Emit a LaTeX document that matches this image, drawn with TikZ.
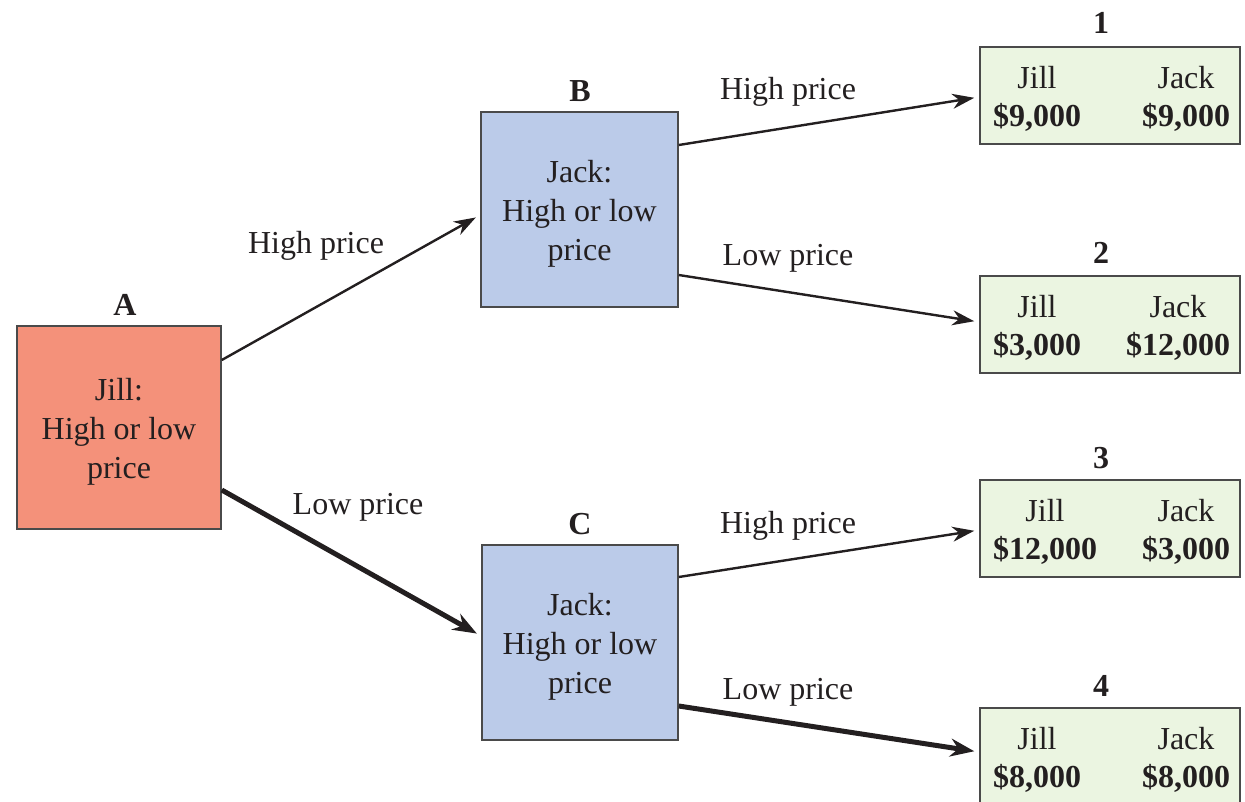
\documentclass[tikz,border=0pt]{standalone}
\usepackage{fontspec}
\setmainfont{Liberation Serif}
\usetikzlibrary{arrows.meta}
\definecolor{txt}{HTML}{231F20}
\definecolor{edge}{HTML}{4A4A4A}
\definecolor{salmon}{HTML}{F4917A}
\definecolor{lblue}{HTML}{BBCBE9}
\definecolor{lgreen}{HTML}{EBF5E1}
\begin{document}
\begin{tikzpicture}[x=1pt,y=-1pt,
  every node/.style={text=txt,font=\fontsize{32}{39}\selectfont},
  decision/.style={draw=edge,line width=1.6pt,minimum height=#1,inner sep=0pt},
  payoff/.style={draw=edge,fill=lgreen,line width=1.6pt,minimum height=97pt,minimum width=260pt,inner sep=0pt},
  paytext/.style={text width=237pt,inner sep=0pt},
  boxtext/.style={align=center,inner sep=0pt},
  tag/.style={font=\fontsize{32}{39}\selectfont\bfseries},
  lbl/.style={inner sep=0pt},
  arr/.style={draw=txt,line width=2.4pt,-{Stealth[length=22pt,width=15pt,inset=7pt]},shorten >=5pt},
  thickarr/.style={arr,line width=5pt,-{Stealth[length=24pt,width=18pt,inset=8pt]}}]
\useasboundingbox (0,0) rectangle (1245,801);
% decision nodes
\node[decision=203pt,fill=salmon,minimum width=204pt] (A) at (119,427.5) {};
\node[decision=195pt,fill=lblue,minimum width=197pt] (B) at (579.5,209.5) {};
\node[decision=195pt,fill=lblue,minimum width=196pt] (C) at (580,642.5) {};
\node[boxtext] (At) at ([yshift=-4pt]A.center) {Jill:\\High or low\\price};
\node[boxtext] (Bt) at ([yshift=-4pt]B.center) {Jack:\\High or low\\price};
\node[boxtext] (Ct) at ([yshift=-4pt]C.center) {Jack:\\High or low\\price};
\node[tag] (tA) at (125,305) {A};
\node[tag] (tB) at (580,91) {B};
\node[tag] (tC) at (580,524) {C};
% payoff boxes
\newcommand{\payrow}[2]{\noindent\begin{tabular}{@{}c@{}}Jill\\[-1pt]\textbf{\$#1}\end{tabular}\hfill\begin{tabular}{@{}c@{}}Jack\\[-1pt]\textbf{\$#2}\end{tabular}}
\node[payoff] (P1) at (1110,95.5) {};
\node[payoff] (P2) at (1110,324.5) {};
\node[payoff] (P3) at (1110,528.5) {};
\node[payoff] (P4) at (1110,756.5) {};
\node[paytext] (P1t) at ([xshift=1.5pt,yshift=-4pt]P1.center) {\payrow{9,000}{9,000}};
\node[paytext] (P2t) at ([xshift=1.5pt,yshift=-4pt]P2.center) {\payrow{3,000}{12,000}};
\node[paytext] (P3t) at ([xshift=1.5pt,yshift=-4pt]P3.center) {\payrow{12,000}{3,000}};
\node[paytext] (P4t) at ([xshift=1.5pt,yshift=-4pt]P4.center) {\payrow{8,000}{8,000}};
\node[tag] (t1) at (1101,23) {1};
\node[tag] (t2) at (1101,253) {2};
\node[tag] (t3) at (1101,458) {3};
\node[tag] (t4) at (1101,686) {4};
% connectors
\draw[arr] ([yshift=67.5pt]A.east) -- ([yshift=-5.5pt]B.west);
\draw[thickarr] ([yshift=-62.5pt]A.east) -- ([yshift=6.5pt]C.west);
\draw[arr] ([yshift=64.5pt]B.east) -- ([yshift=-1.5pt]P1.west);
\draw[arr] ([yshift=-65.5pt]B.east) -- ([yshift=2.5pt]P2.west);
\draw[arr] ([yshift=65.5pt]C.east) -- ([yshift=-1.5pt]P3.west);
\draw[thickarr] ([yshift=-63.5pt]C.east) -- ([yshift=4.5pt]P4.west);
% edge labels
\node[lbl] (l1) at (316,246) {High price};
\node[lbl] (l2) at (358,507) {Low price};
\node[lbl] (l3) at (788,92) {High price};
\node[lbl] (l4) at (788,258) {Low price};
\node[lbl] (l5) at (788,526) {High price};
\node[lbl] (l6) at (788,692) {Low price};
\end{tikzpicture}
\end{document}
